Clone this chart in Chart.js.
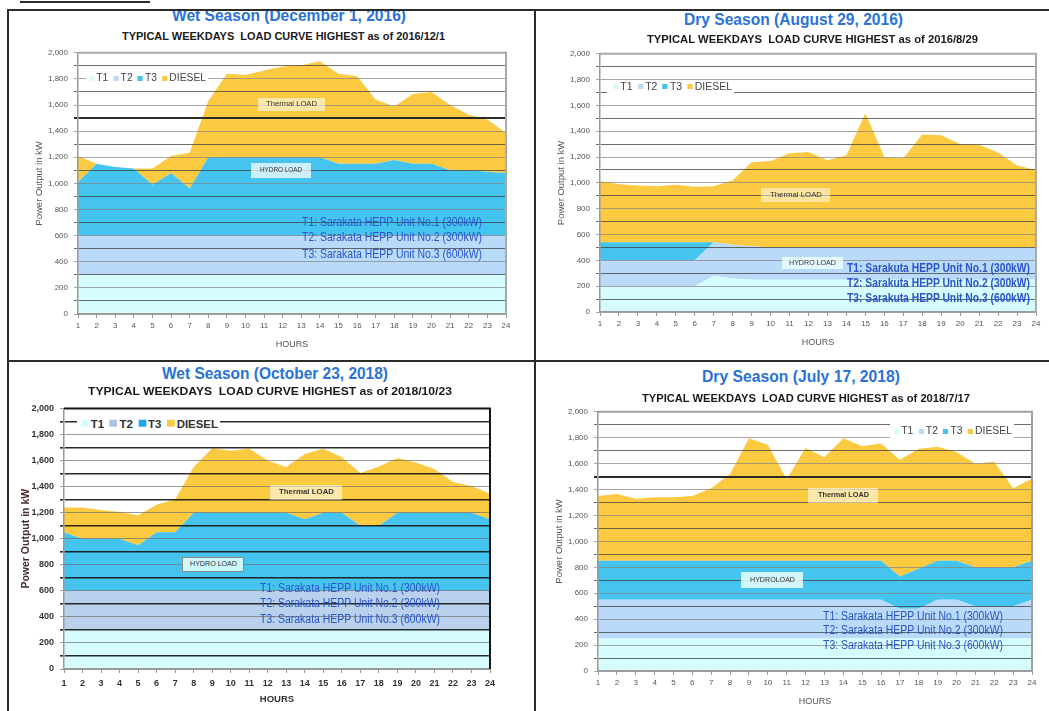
<!DOCTYPE html>
<html>
<head>
<meta charset="utf-8">
<title>Typical Weekday Load Curves</title>
<script src="https://cdn.jsdelivr.net/npm/chart.js@4.4.1/dist/chart.umd.min.js"></script>
<style>
  html, body { margin: 0; padding: 0; background: #fff; }
  body { width: 1049px; height: 711px; position: relative; overflow: hidden;
         font-family: "Liberation Sans", Arial, Helvetica, sans-serif; }
  canvas { position: absolute; z-index: 1; }
  .t { position: absolute; white-space: pre; line-height: 1.15; transform-origin: 0 50%; z-index: 3; }
  .rule { position: absolute; background: #2b2b2b; z-index: 5; }
  .box { position: absolute; z-index: 2; box-sizing: border-box; }
  .lg { position: absolute; background: #fff; z-index: 2; }
  .lgrow { position: absolute; left: 0; top: 50%; white-space: nowrap; transform-origin: 0 50%;
           display: flex; align-items: center; line-height: 1; }
  .sq { display: inline-block; margin-right: 2px; }
  .it { margin-right: 5px; }
</style>
</head>
<body>
<canvas id="c1"></canvas>
<canvas id="c2"></canvas>
<canvas id="c3"></canvas>
<canvas id="c4"></canvas>

<script>
// Hours of the day on the horizontal axis
const hours = ["1","2","3","4","5","6","7","8","9","10","11","12",
               "13","14","15","16","17","18","19","20","21","22","23","24"];
const seriesNames = ["T1", "T2", "T3", "DIESEL"];
const yTickValues = [0, 200, 400, 600, 800, 1000, 1200, 1400, 1600, 1800, 2000];

// Wet Season, December 1, 2016 (kW, stacked)
const wet2016T1     = [300,300,300,300,300,300,300,300,300,300,300,300,300,300,300,300,300,300,300,300,300,300,300,300];
const wet2016T2     = [300,300,300,300,300,300,300,300,300,300,300,300,300,300,300,300,300,300,300,300,300,300,300,300];
const wet2016T3     = [410,550,525,515,390,480,360,600,600,600,600,600,600,600,550,550,550,580,550,550,500,500,490,480];
const wet2016Diesel = [200,0,0,0,125,130,275,430,640,630,665,695,705,735,690,670,490,410,535,550,500,425,400,305];

// Dry Season, August 29, 2016
const dry2016T1     = [200,200,200,200,200,200,280,260,250,250,250,250,250,250,250,250,250,250,250,250,250,250,250,250];
const dry2016T2     = [200,200,200,200,200,200,260,260,260,250,250,250,250,250,250,250,250,250,250,250,250,250,250,250];
const dry2016T3     = [140,140,140,140,140,140,0,0,0,0,0,0,0,0,0,0,0,0,0,0,0,0,0,0];
const dry2016Diesel = [475,450,440,435,445,430,435,500,650,670,730,740,675,715,1040,700,690,875,870,800,795,735,635,600];

// Wet Season, October 23, 2018
const wet2018T1     = [300,300,300,300,300,300,300,300,300,300,300,300,300,300,300,300,300,300,300,300,300,300,300,300];
const wet2018T2     = [300,300,300,300,300,300,300,300,300,300,300,300,300,300,300,300,300,300,300,300,300,300,300,300];
const wet2018T3     = [450,400,400,400,350,450,450,600,600,600,600,600,600,550,600,600,500,500,600,600,600,600,600,550];
const wet2018Diesel = [190,240,220,205,230,210,250,350,495,475,490,400,350,500,490,425,405,455,420,385,335,235,205,195];

// Dry Season, July 17, 2018
const dry2018T1     = [250,250,250,250,250,250,250,250,250,250,250,250,250,250,250,250,250,250,250,250,250,250,250,250];
const dry2018T2     = [300,300,300,300,300,300,300,300,300,300,300,300,300,300,300,300,230,230,300,300,250,250,250,300];
const dry2018T3     = [300,300,300,300,300,300,300,300,300,300,300,300,300,300,300,300,250,310,300,300,300,300,300,300];
const dry2018Diesel = [500,515,480,490,490,500,560,670,945,895,630,870,800,945,885,905,900,925,880,840,800,815,610,635];

const FONT = '"Liberation Sans", Arial, Helvetica, sans-serif';
Chart.defaults.font.family = FONT;

// Draws the top and right edges of the plot area
const plotFrame = {
  id: 'plotFrame',
  afterDraw(chart, args, opts) {
    const { ctx, chartArea: a } = chart;
    ctx.save();
    ctx.strokeStyle = opts.color;
    ctx.lineWidth = opts.width;
    ctx.beginPath();
    ctx.moveTo(a.left, a.top);
    ctx.lineTo(a.right, a.top);
    ctx.lineTo(a.right, a.bottom);
    ctx.stroke();
    ctx.restore();
  }
};

const panels = [
  { id: 'c1', rect: { l: 78, r: 506, t: 52, b: 314 },
    series: [wet2016T1, wet2016T2, wet2016T3, wet2016Diesel],
    fills: ['#d6fdfd', '#badafa', '#46c4f0', '#fbca40'],
    gridOdd: 'rgba(60,60,60,0.75)', oddWidth: 1, heavy1500: true, gridEven: 'rgba(130,130,130,0.7)', frame: '#a9a9a9', frameW: 2,
    tickFont: { size: 8 }, tickColor: '#555', tickPadX: 3,
    yTitleFont: { size: 9.5 }, yTitleColor: '#555', xTitleFont: { size: 9 }, xTitleColor: '#555' },
  { id: 'c2', rect: { l: 600, r: 1036, t: 53, b: 312 },
    series: [dry2016T1, dry2016T2, dry2016T3, dry2016Diesel],
    fills: ['#d6fdfd', '#badafa', '#46c4f0', '#fbca40'],
    gridOdd: 'rgba(60,60,60,0.75)', oddWidth: 1, heavy1500: false, gridEven: 'rgba(130,130,130,0.7)', frame: '#a9a9a9', frameW: 2,
    tickFont: { size: 8 }, tickColor: '#555', tickPadX: 3,
    yTitleFont: { size: 9.5 }, yTitleColor: '#555', xTitleFont: { size: 9 }, xTitleColor: '#555' },
  { id: 'c3', rect: { l: 64, r: 490, t: 407, b: 669 },
    series: [wet2018T1, wet2018T2, wet2018T3, wet2018Diesel],
    fills: ['#d6fdfd', '#b9d1ec', '#46c4f0', '#fbca40'],
    gridOdd: 'rgba(20,20,20,0.9)', oddWidth: 1.6, heavy1500: false, gridEven: 'rgba(110,110,110,0.7)', frame: '#151515', frameW: 2,
    tickFont: { size: 9, weight: 'bold' }, tickColor: '#333', tickPadX: 5,
    yTitleFont: { size: 10.5, weight: 'bold' }, yTitleColor: '#4a2b2b', xTitleFont: { size: 9.5, weight: 'bold' }, xTitleColor: '#333' },
  { id: 'c4', rect: { l: 598, r: 1032, t: 411, b: 671 },
    series: [dry2018T1, dry2018T2, dry2018T3, dry2018Diesel],
    fills: ['#d6fdfd', '#badafa', '#46c4f0', '#fbca40'],
    gridOdd: 'rgba(60,60,60,0.75)', oddWidth: 1, heavy1500: true, gridEven: 'rgba(130,130,130,0.7)', frame: '#a0a0a0', frameW: 2,
    tickFont: { size: 8 }, tickColor: '#555', tickPadX: 3,
    yTitleFont: { size: 9.5 }, yTitleColor: '#555', xTitleFont: { size: 9 }, xTitleColor: '#555' }
];

const PAD_L = 22, Y_W = 48, PAD_T = 10, X_H = 40, PAD_B = 4, PAD_R = 14;

panels.forEach(p => {
  const cv = document.getElementById(p.id);
  cv.width = (p.rect.r - p.rect.l) + PAD_L + Y_W + PAD_R;
  cv.height = (p.rect.b - p.rect.t) + PAD_T + X_H + PAD_B;
  cv.style.left = (p.rect.l - PAD_L - Y_W) + 'px';
  cv.style.top = (p.rect.t - PAD_T) + 'px';

  new Chart(cv, {
    type: 'line',
    data: {
      labels: hours,
      datasets: p.series.map((d, i) => ({
        label: seriesNames[i], data: d,
        fill: i === 0 ? 'origin' : '-1',
        backgroundColor: p.fills[i], borderColor: p.fills[i],
        borderWidth: 0, pointRadius: 0, tension: 0
      }))
    },
    options: {
      responsive: false, maintainAspectRatio: false, animation: false,
      devicePixelRatio: 1,
      layout: { padding: { left: PAD_L, top: PAD_T, right: PAD_R, bottom: PAD_B } },
      plugins: {
        legend: { display: false }, tooltip: { enabled: false },
        plotFrame: { color: p.frame, width: p.frameW }
      },
      scales: {
        x: {
          type: 'category', offset: false,
          grid: { display: true, drawOnChartArea: false, tickLength: 4, color: '#999', z: 1 },
          border: { color: '#999', width: 1.5, z: 2 },
          ticks: { autoSkip: false, maxRotation: 0, minRotation: 0, padding: p.tickPadX,
                   font: p.tickFont, color: p.tickColor },
          title: { display: true, text: 'HOURS', font: p.xTitleFont, color: p.xTitleColor,
                   padding: { top: 0, bottom: 4 } },
          afterFit(s) { s.height = X_H; }
        },
        y: {
          stacked: true, min: 0, max: 2000,
          ticks: {
            stepSize: 100, autoSkip: false, padding: 6, font: p.tickFont, color: p.tickColor,
            callback: v => yTickValues.includes(v) ? v.toLocaleString('en-US') : ''
          },
          grid: {
            z: 1,
            tickLength: 4,
            color: ctx => {
              const v = ctx.tick.value;
              if (yTickValues.includes(v)) return p.gridEven;
              return (p.heavy1500 && v === 1500) ? '#2a2a2a' : p.gridOdd;
            },
            lineWidth: ctx => {
              const v = ctx.tick.value;
              if (yTickValues.includes(v)) return 1;
              return (p.heavy1500 && v === 1500) ? 2 : p.oddWidth;
            }
          },
          border: { color: '#999', width: 1.5, z: 2 },
          title: { display: true, text: 'Power Output in kW', font: p.yTitleFont, color: p.yTitleColor,
                   padding: { top: 4, bottom: 2 } },
          afterFit(s) { s.width = Y_W; }
        }
      }
    },
    plugins: [plotFrame]
  });
});

// ---- text overlays ----
function fitText(text, o) {
  const el = document.createElement('div');
  el.className = 't';
  el.textContent = text;
  el.style.fontSize = o.size + 'px';
  el.style.fontWeight = o.bold ? '700' : '400';
  el.style.color = o.color || '#000';
  if (o.z) el.style.zIndex = o.z;
  document.body.appendChild(el);
  const r = el.getBoundingClientRect();
  const left = (o.cx !== undefined) ? o.cx - o.w / 2 : o.x;
  el.style.left = left + 'px';
  el.style.top = (o.cy - r.height / 2) + 'px';
  el.style.transform = 'scaleX(' + (o.w / r.width) + ')';
  return el;
}

function labelBox(text, b, o) {
  const d = document.createElement('div');
  d.className = 'box';
  d.style.left = b.x + 'px'; d.style.top = b.y + 'px';
  d.style.width = b.w + 'px'; d.style.height = b.h + 'px';
  d.style.background = b.bg;
  if (b.border) d.style.border = b.border;
  document.body.appendChild(d);
  fitText(text, { cx: b.x + b.w / 2, cy: b.y + b.h / 2, w: o.w, size: o.size, bold: o.bold, color: '#333' });
}

function legend(b, o, colors) {
  const d = document.createElement('div');
  d.className = 'lg';
  d.style.left = b.x + 'px'; d.style.top = b.y + 'px';
  d.style.width = b.w + 'px'; d.style.height = b.h + 'px';
  const row = document.createElement('div');
  row.className = 'lgrow';
  row.style.fontSize = o.size + 'px';
  row.style.color = o.color;
  if (o.bold) row.style.fontWeight = '700';
  seriesNames.forEach((n, i) => {
    const s = document.createElement('span');
    s.className = 'sq';
    s.style.width = o.sq + 'px'; s.style.height = o.sq + 'px';
    s.style.background = colors[i];
    const t = document.createElement('span');
    t.className = 'it';
    t.textContent = n;
    if (i === seriesNames.length - 1) t.style.marginRight = '0';
    row.appendChild(s); row.appendChild(t);
  });
  d.appendChild(row);
  document.body.appendChild(d);
  const rw = row.getBoundingClientRect().width;
  row.style.left = o.inset + 'px';
  row.style.transform = 'translateY(-50%) scaleX(' + ((b.w - o.inset - 2) / rw) + ')';
}

const TITLE_BLUE = '#2a72d6';
const NOTE_BLUE = '#2b55c8';

// Panel 1
fitText('Wet Season (December 1, 2016)', { cx: 289, cy: 16, w: 234, size: 16, bold: true, color: TITLE_BLUE });
fitText('TYPICAL WEEKDAYS  LOAD CURVE HIGHEST as of 2016/12/1', { cx: 283, cy: 36, w: 323, size: 10.5, bold: true, color: '#1a1a1a' });
legend({ x: 86, y: 71, w: 122, h: 14 }, { size: 10, color: '#444', sq: 5, inset: 3 }, panels[0].fills);
labelBox('Thermal LOAD', { x: 258, y: 98, w: 67, h: 13, bg: 'rgba(255,255,255,0.55)' }, { w: 51, size: 7 });
labelBox('HYDRO LOAD', { x: 251, y: 163, w: 60, h: 15, bg: 'rgba(255,255,255,0.72)' }, { w: 42, size: 7 });
fitText('T1: Sarakata HEPP Unit No.1 (300kW)', { x: 302, cy: 223, w: 180, size: 12, color: NOTE_BLUE });
fitText('T2: Sarakata HEPP Unit No.2 (300kW)', { x: 302, cy: 238, w: 180, size: 12, color: NOTE_BLUE });
fitText('T3: Sarakata HEPP Unit No.3 (600kW)', { x: 302, cy: 255, w: 180, size: 12, color: NOTE_BLUE });

// Panel 2
fitText('Dry Season (August 29, 2016)', { cx: 793, cy: 20, w: 219, size: 16, bold: true, color: TITLE_BLUE });
fitText('TYPICAL WEEKDAYS  LOAD CURVE HIGHEST as of 2016/8/29', { cx: 812, cy: 39, w: 331, size: 10.5, bold: true, color: '#1a1a1a' });
legend({ x: 607, y: 80, w: 127, h: 13 }, { size: 10, color: '#444', sq: 5, inset: 6 }, panels[1].fills);
labelBox('Thermal LOAD', { x: 761, y: 188, w: 69, h: 14, bg: 'rgba(255,255,255,0.5)' }, { w: 52, size: 7 });
labelBox('HYDRO LOAD', { x: 782, y: 257, w: 61, h: 12, bg: 'rgba(235,255,255,0.85)' }, { w: 47, size: 7 });
fitText('T1: Sarakuta HEPP Unit No.1 (300kW)', { x: 847, cy: 269, w: 183, size: 12, bold: true, color: NOTE_BLUE });
fitText('T2: Sarakuta HEPP Unit No.2 (300kW)', { x: 847, cy: 284, w: 183, size: 12, bold: true, color: NOTE_BLUE });
fitText('T3: Sarakuta HEPP Unit No.3 (600kW)', { x: 847, cy: 299, w: 183, size: 12, bold: true, color: NOTE_BLUE });

// Panel 3
fitText('Wet Season (October 23, 2018)', { cx: 275, cy: 374, w: 226, size: 16, bold: true, color: TITLE_BLUE });
fitText('TYPICAL WEEKDAYS  LOAD CURVE HIGHEST as of 2018/10/23', { cx: 270, cy: 392, w: 364, size: 11.5, bold: true, color: '#1a1a1a' });
legend({ x: 77, y: 416, w: 143, h: 15 }, { size: 10.5, color: '#333', sq: 7, inset: 4, bold: true }, ['#d6fdfd', '#a9c4e2', '#1aa8e8', '#fbca40']);
labelBox('Thermal LOAD', { x: 270, y: 485, w: 72, h: 15, bg: 'rgba(255,255,255,0.55)' }, { w: 55, size: 7.5, bold: true });
labelBox('HYDRO LOAD', { x: 182, y: 557, w: 62, h: 15, bg: '#ccf7fb', border: '1px solid #8a8a8a' }, { w: 47, size: 7 });
fitText('T1: Sarakata HEPP Unit No.1 (300kW)', { x: 260, cy: 589, w: 180, size: 12, color: NOTE_BLUE });
fitText('T2: Sarakata HEPP Unit No.2 (300kW)', { x: 260, cy: 604, w: 180, size: 12, color: NOTE_BLUE });
fitText('T3: Sarakata HEPP Unit No.3 (600kW)', { x: 260, cy: 620, w: 180, size: 12, color: NOTE_BLUE });

// Panel 4
fitText('Dry Season (July 17, 2018)', { cx: 801, cy: 377, w: 198, size: 16, bold: true, color: TITLE_BLUE });
fitText('TYPICAL WEEKDAYS  LOAD CURVE HIGHEST as of 2018/7/17', { cx: 806, cy: 398, w: 328, size: 10.5, bold: true, color: '#1a1a1a' });
legend({ x: 890, y: 424, w: 124, h: 14 }, { size: 10, color: '#444', sq: 5, inset: 4 }, panels[3].fills);
labelBox('Thermal LOAD', { x: 808, y: 488, w: 70, h: 15, bg: 'rgba(255,255,255,0.55)' }, { w: 51, size: 7, bold: true });
labelBox('HYDROLOAD', { x: 741, y: 572, w: 62, h: 16, bg: 'rgba(235,255,255,0.85)' }, { w: 45, size: 7 });
fitText('T1: Sarakata HEPP Unit No.1 (300kW)', { x: 823, cy: 617, w: 180, size: 12, color: NOTE_BLUE });
fitText('T2: Sarakata HEPP Unit No.2 (300kW)', { x: 823, cy: 631, w: 180, size: 12, color: NOTE_BLUE });
fitText('T3: Sarakata HEPP Unit No.3 (600kW)', { x: 823, cy: 646, w: 180, size: 12, color: NOTE_BLUE });

// ---- page frame ----
function rule(x, y, w, h, bg) {
  const d = document.createElement('div');
  d.className = 'rule';
  d.style.left = x + 'px'; d.style.top = y + 'px';
  d.style.width = w + 'px'; d.style.height = h + 'px';
  if (bg) d.style.background = bg;
  document.body.appendChild(d);
}
rule(0, 0, 1049, 9, '#fff');      // blank strip above the frame
rule(20, 1, 130, 2);              // heading underline
rule(7, 9, 1042, 2);              // top edge
rule(7, 9, 2, 702);               // left edge
rule(534, 9, 2, 702);             // middle divider
rule(7, 360, 1042, 2);            // row divider
</script>
</body>
</html>
